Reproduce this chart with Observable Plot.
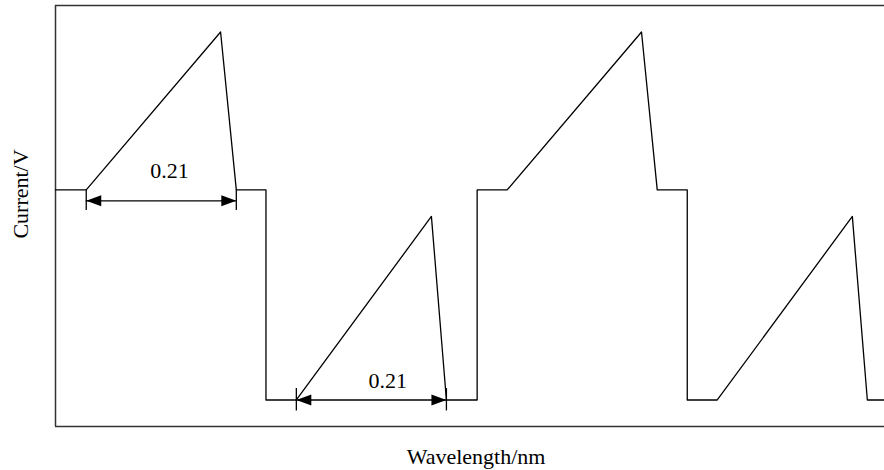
<!DOCTYPE html>
<html>
<head>
<meta charset="utf-8">
<script src="https://cdn.jsdelivr.net/npm/d3@7"></script>
<script src="https://cdn.jsdelivr.net/npm/@observablehq/plot@0.6"></script>
<style>
  html, body { margin: 0; padding: 0; background: #fff; }
</style>
</head>
<body>
<div id="chart"></div>
<script>
// Waveform (wavelength offset in nm, relative current)
const waveX = [0, 0.043, 0.231, 0.253, 0.2945, 0.2945, 0.337, 0.526, 0.547, 0.590, 0.590, 0.632, 0.820, 0.842, 0.884, 0.884, 0.926, 1.115, 1.136, 1.16];
const waveY = [0.562, 0.562, 0.937, 0.562, 0.562, 0.063, 0.063, 0.499, 0.063, 0.063, 0.562, 0.562, 0.937, 0.562, 0.562, 0.063, 0.063, 0.499, 0.063, 0.063];

// Dimension annotations (width 0.21)
const dimX1 = [0.043, 0.337];
const dimX2 = [0.253, 0.547];
const dimY = [0.536, 0.063];
const dimTickTop = [0.562, 0.090];
const dimTickBottom = [0.513, 0.037];
const dimLabels = ["0.21", "0.21"];
const dimLabelX = [0.1595, 0.465];
const dimLabelY = [0.608, 0.109];

const xLabel = "Wavelength/nm";
const yLabel = "Current/V";

const xDomain = [0, 1.16];
const yDomain = [0, 1];

const wave = waveX.map((x, i) => ({x, y: waveY[i]}));
const dims = dimX1.map((x1, i) => ({x1, x2: dimX2[i], y: dimY[i], top: dimTickTop[i], bottom: dimTickBottom[i], label: dimLabels[i], lx: dimLabelX[i], ly: dimLabelY[i]}));
const ticks = dims.flatMap(d => [{x: d.x1, y1: d.top, y2: d.bottom}, {x: d.x2, y1: d.top, y2: d.bottom}]);
const heads = dims.flatMap(d => [{x: d.x1, y: d.y, r: 180}, {x: d.x2, y: d.y, r: 0}]);

const arrowHead = {
  draw(ctx) {
    ctx.moveTo(0, 0);
    ctx.lineTo(-15, -5.5);
    ctx.lineTo(-15, 5.5);
    ctx.closePath();
  }
};

const font = "'Liberation Serif', 'Times New Roman', serif";

const chart = Plot.plot({
  width: 884,
  height: 470,
  marginLeft: 55,
  marginRight: 0,
  marginTop: 5,
  marginBottom: 44,
  x: {domain: xDomain, axis: null},
  y: {domain: yDomain, axis: null},
  style: {fontFamily: font, fontSize: "22px", background: "#fff", color: "#000"},
  marks: [
    Plot.ruleY(yDomain, {stroke: "#333", strokeWidth: 1.5}),
    Plot.ruleX([xDomain[0]], {stroke: "#333", strokeWidth: 1.5}),
    Plot.line(wave, {x: "x", y: "y", stroke: "#000", strokeWidth: 1.3}),
    Plot.ruleX(ticks, {x: "x", y1: "y1", y2: "y2", stroke: "#000", strokeWidth: 1.3}),
    Plot.ruleY(dims, {y: "y", x1: "x1", x2: "x2", stroke: "#000", strokeWidth: 1.3}),
    Plot.dot(heads, {x: "x", y: "y", rotate: "r", symbol: arrowHead, fill: "#000", stroke: null}),
    Plot.text(dims, {x: "lx", y: "ly", text: "label", fontSize: 22, fill: "#000"}),
    Plot.text([xLabel], {frameAnchor: "bottom", textAnchor: "middle", lineAnchor: "middle", dy: 30, dx: 6, fontSize: 22, fill: "#000"}),
    Plot.text([yLabel], {frameAnchor: "left", textAnchor: "middle", lineAnchor: "middle", rotate: -90, dx: -35, dy: -22, fontSize: 22, fill: "#000"})
  ]
});

document.getElementById("chart").appendChild(chart);
</script>
</body>
</html>
